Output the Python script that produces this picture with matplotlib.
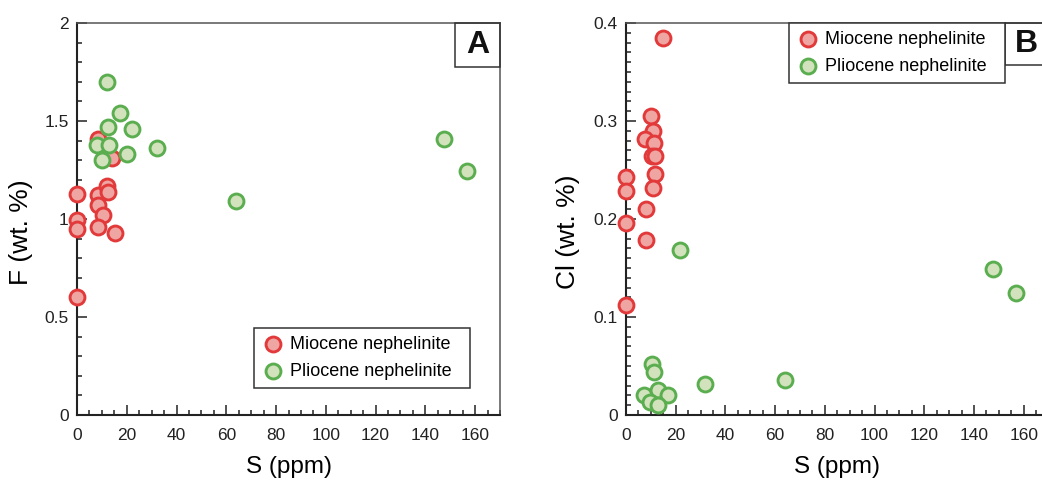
import matplotlib
matplotlib.use('Agg')
import matplotlib.pyplot as plt
from matplotlib.patches import Rectangle
from matplotlib.ticker import MultipleLocator

plt.rcParams['font.family'] = ['Liberation Sans', 'DejaVu Sans']

# F vs S
mio_S_F = [0, 8.6, 11.9, 12.5, 8.6, 10.6, 0, 0, 8.4, 15.3, 0, 8.4, 13.9]
mio_F = [1.13, 1.12, 1.17, 1.14, 1.07, 1.02, 0.995, 0.95, 0.96, 0.93, 0.60, 1.41, 1.31]
plio_S_F = [11.9, 17.3, 12.5, 22, 7.9, 13, 20, 32.3, 9.9, 64, 147.5, 156.8]
plio_F = [1.70, 1.54, 1.47, 1.46, 1.38, 1.38, 1.33, 1.36, 1.30, 1.09, 1.41, 1.245]

# Cl vs S
mio_S_Cl = [15, 10.1, 10.7, 7.8, 11.4, 10.6, 11.8, 11.5, 10.9, 8.2, 8.0, 0, 0, 0, 0]
mio_Cl = [0.385, 0.305, 0.290, 0.282, 0.278, 0.264, 0.264, 0.2456, 0.232, 0.210, 0.179,
          0.243, 0.229, 0.196, 0.112]
plio_S_Cl = [21.9, 147.5, 156.8, 10.5, 11.1, 7.1, 12.7, 17.1, 9.8, 12.7, 31.9, 64]
plio_Cl = [0.168, 0.149, 0.124, 0.052, 0.044, 0.020, 0.0255, 0.020, 0.0136, 0.010, 0.0316, 0.036]

red_edge, red_face = '#e23a3a', '#efa6a3'
grn_edge, grn_face = '#5bae4f', '#d2e2bc'
ms = 115
mlw = 2.1

W, H = 1042, 480
fig = plt.figure(figsize=(W / 100, H / 100), dpi=100)
ax1 = fig.add_axes([77 / W, 65 / H, 423 / W, 392 / H])
ax2 = fig.add_axes([626 / W, 65 / H, 422.5 / W, 392 / H])


def style(ax, ymax, ymaj, ymin):
    ax.set_xlim(0, 170)
    ax.set_ylim(0, ymax)
    ax.xaxis.set_major_locator(MultipleLocator(20))
    ax.xaxis.set_minor_locator(MultipleLocator(5))
    ax.yaxis.set_major_locator(MultipleLocator(ymaj))
    ax.yaxis.set_minor_locator(MultipleLocator(ymin))
    ax.tick_params(which='both', direction='in', top=False, right=False,
                   width=1.1, color='#222222', labelsize=12.5)
    ax.tick_params(axis='x', pad=9)
    ax.tick_params(axis='y', pad=6)
    ax.tick_params(which='major', length=7)
    ax.tick_params(which='minor', length=3.5)
    for s in ['left', 'bottom']:
        ax.spines[s].set_linewidth(1.5)
        ax.spines[s].set_color('#222222')
    for s in ['top', 'right']:
        ax.spines[s].set_linewidth(1.1)
        ax.spines[s].set_color('#555555')
    ax.set_xlabel('S (ppm)', fontsize=17.5, labelpad=10)
    for lab in ax.get_xticklabels() + ax.get_yticklabels():
        lab.set_color('#222222')


def tag(ax, letter, x0, y0):
    ax.add_patch(Rectangle((x0, y0), 1 - x0, 1 - y0, transform=ax.transAxes,
                           fill=False, edgecolor='#333333', lw=1.1, clip_on=False, zorder=5))
    ax.text((1 + x0) / 2, (1 + y0) / 2, letter, transform=ax.transAxes,
            ha='center', va='center', fontsize=23, fontweight='bold', color='#111111')


def legend(ax, **kw):
    leg = ax.legend(borderaxespad=0, fontsize=13, fancybox=False, framealpha=1,
                    handletextpad=0.35, handlelength=1.2, borderpad=0.45,
                    labelspacing=0.55, **kw)
    leg.get_frame().set_edgecolor('#333333')
    leg.get_frame().set_linewidth(1.1)
    return leg


# panel A
ax1.scatter(mio_S_F, mio_F, s=ms, facecolor=red_face, edgecolor=red_edge, lw=mlw,
            label='Miocene nephelinite  ', zorder=3, clip_on=False)
ax1.scatter(plio_S_F, plio_F, s=ms, facecolor=grn_face, edgecolor=grn_edge, lw=mlw,
            label='Pliocene nephelinite  ', zorder=4, clip_on=False)
style(ax1, 2, 0.5, 0.1)
ax1.set_yticks([0, 0.5, 1, 1.5, 2])
ax1.set_yticklabels(['0', '0.5', '1', '1.5', '2'])
ax1.set_ylabel('F (wt. %)', fontsize=19)
ax1.yaxis.set_label_coords(-0.104, 0.467)
tag(ax1, 'A', 0.894, 0.888)
legend(ax1, loc='lower right', bbox_to_anchor=(0.929, 0.069))

# panel B
ax2.scatter(mio_S_Cl, mio_Cl, s=ms, facecolor=red_face, edgecolor=red_edge, lw=mlw,
            label='Miocene nephelinite  ', zorder=3, clip_on=False)
ax2.scatter(plio_S_Cl, plio_Cl, s=ms, facecolor=grn_face, edgecolor=grn_edge, lw=mlw,
            label='Pliocene nephelinite  ', zorder=4, clip_on=False)
style(ax2, 0.4, 0.1, 0.01)
ax2.set_yticks([0, 0.1, 0.2, 0.3, 0.4])
ax2.set_yticklabels(['0', '0.1', '0.2', '0.3', '0.4'])
ax2.set_ylabel('Cl (wt. %)', fontsize=19)
ax2.yaxis.set_label_coords(-0.108, 0.467)
tag(ax2, 'B', 0.897, 0.893)
legend(ax2, loc='upper right', bbox_to_anchor=(0.897, 1.0))

fig.savefig('out.png', dpi=100)
